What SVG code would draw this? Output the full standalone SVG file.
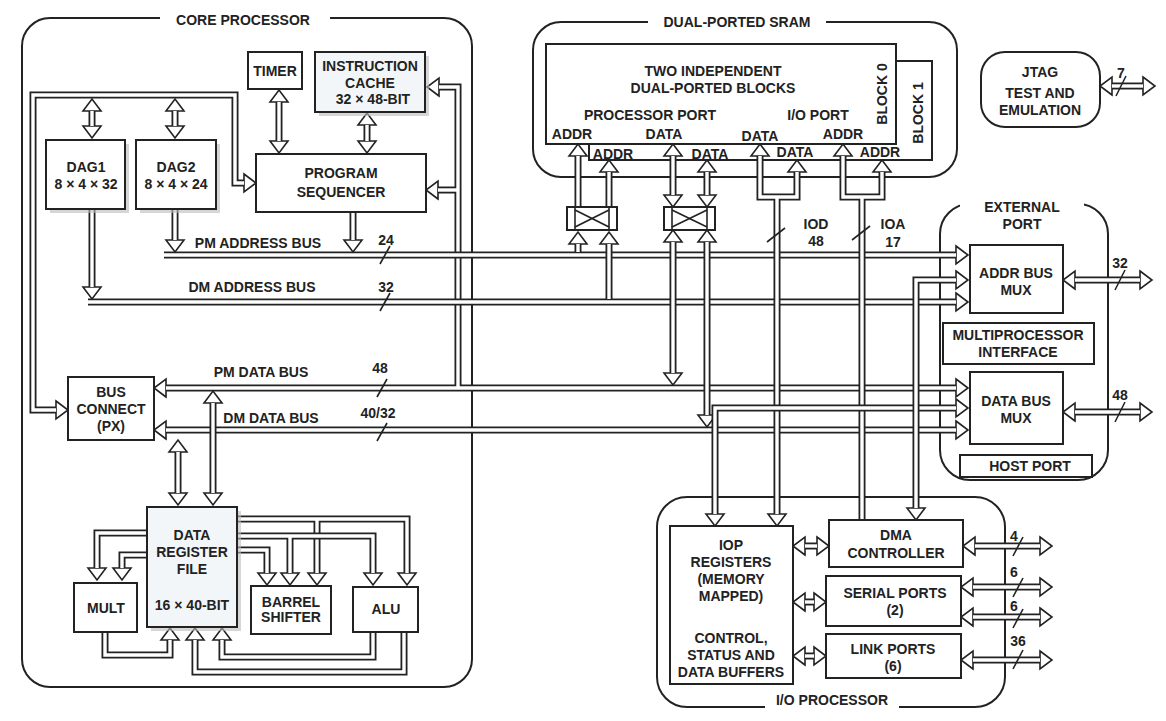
<svg xmlns="http://www.w3.org/2000/svg" width="1166" height="721" viewBox="0 0 1166 721">
<style>
text{font-family:"Liberation Sans",Arial,sans-serif;font-weight:bold;font-size:14px;fill:#222;text-anchor:middle}
.box{fill:#fff;stroke:#222;stroke-width:2}
.lt{fill:#f3f6f9;stroke:#222;stroke-width:2}
.sh{fill:#bbb;opacity:.6}
.grp{fill:none;stroke:#222;stroke-width:2}
.bk{fill:none;stroke:#222;stroke-width:7}
.wh{fill:none;stroke:#fff;stroke-width:3.4}
.a{marker-end:url(#ah)}
.b{marker-start:url(#ah);marker-end:url(#ah)}
.s{marker-start:url(#ah)}
.sl{stroke:#222;stroke-width:1.6}
</style>
<defs>
<marker id="ah" markerUnits="userSpaceOnUse" markerWidth="20" markerHeight="24" refX="0" refY="10" orient="auto-start-reverse" overflow="visible">
<path d="M0,1 L12,10 L0,19 Z" fill="#fff" stroke="#222" stroke-width="1.6"/>
</marker>
</defs>
<rect width="1166" height="721" fill="#fff"/>

<g id="core-processor">
<rect class="grp" x="22" y="18" width="450" height="669" rx="28"/>
<rect x="160" y="10" width="170" height="18" fill="#fff"/>
<text x="243" y="25">CORE PROCESSOR</text>
</g>
<g id="dual-ported-sram">
<rect class="grp" x="533" y="22" width="424" height="155" rx="28"/>
<rect x="648" y="12" width="178" height="18" fill="#fff"/>
<text x="737" y="27">DUAL-PORTED SRAM</text>
<rect class="box" x="589" y="61" width="343" height="99"/>
<rect class="box" x="546" y="44" width="350" height="100"/>
<text x="713" y="76">TWO  INDEPENDENT</text>
<text x="713" y="93">DUAL-PORTED BLOCKS</text>
<text x="650" y="120">PROCESSOR PORT</text>
<text x="818" y="120">I/O PORT</text>
<text x="572" y="139">ADDR</text>
<text x="664" y="139">DATA</text>
<text x="760" y="141">DATA</text>
<text x="843" y="139">ADDR</text>
<text x="613" y="159">ADDR</text>
<text x="710" y="159">DATA</text>
<text x="795" y="157">DATA</text>
<text x="880" y="157">ADDR</text>
<text transform="translate(887,94) rotate(-90)">BLOCK 0</text>
<text transform="translate(923,113) rotate(-90)">BLOCK 1</text>
</g>
<g id="jtag">
<rect class="grp" x="981" y="52" width="119" height="75" rx="24"/>
<text x="1040" y="77">JTAG</text>
<text x="1040" y="98">TEST AND</text>
<text x="1040" y="115">EMULATION</text>
</g>
<g id="external-port">
<rect class="grp" x="940" y="204" width="168" height="276" rx="30"/>
<rect x="960" y="194" width="124" height="20" fill="#fff"/>
<text x="1022" y="212">EXTERNAL</text>
<text x="1022" y="229">PORT</text>
</g>
<g id="io-processor">
<rect class="grp" x="657" y="497" width="348" height="210" rx="30"/>
<rect x="765" y="698" width="134" height="18" fill="#fff"/>
<text x="832" y="705">I/O PROCESSOR</text>
</g>

<g id="connectors">
<!-- PS loop / bus connect -->
<path class="bk b" d="M56,410 L33,410 L33,95 L235,95 L235,183 L244,183"/>
<path class="wh" d="M56,410 L33,410 L33,95 L235,95 L235,183 L244,183"/>
<path class="bk b" d="M92,111 L92,126"/><path class="wh" d="M92,111 L92,126"/>
<path class="bk b" d="M175,111 L175,126"/><path class="wh" d="M175,111 L175,126"/>
<path class="bk b" d="M279,102 L279,141"/><path class="wh" d="M279,102 L279,141"/>
<path class="bk b" d="M367,125 L367,141"/><path class="wh" d="M367,125 L367,141"/>
<!-- PM data bus + up to cache/PS -->
<path class="bk b" d="M166,388 L956,388"/>
<path class="bk a" d="M458,388 L458,87 L439,87"/>
<path class="bk a" d="M458,190 L438,190"/>
<path class="wh" d="M166,388 L956,388"/>
<path class="wh" d="M458,388 L458,87 L439,87"/>
<path class="wh" d="M458,190 L438,190"/>
<!-- addr buses -->
<path class="bk a" d="M164,255 L956,255"/><path class="wh" d="M164,255 L956,255"/>
<path class="bk a" d="M88,302 L956,302"/><path class="wh" d="M88,302 L956,302"/>
<path class="bk a" d="M92,209 L92,287"/><path class="wh" d="M92,209 L92,287"/>
<path class="bk a" d="M175,209 L175,240"/><path class="wh" d="M175,209 L175,240"/>
<path class="bk a" d="M353,212 L353,240"/><path class="wh" d="M353,212 L353,240"/>
<!-- DM data bus -->
<path class="bk b" d="M166,430 L956,430"/><path class="wh" d="M166,430 L956,430"/>
<!-- crossbars -->
<path class="bk a" d="M578,252 L578,244"/><path class="wh" d="M578,252 L578,244"/>
<path class="bk a" d="M609,299 L609,244"/><path class="wh" d="M609,299 L609,244"/>
<path class="bk a" d="M578,207 L578,156"/><path class="wh" d="M578,207 L578,156"/>
<path class="bk a" d="M609,207 L609,172"/><path class="wh" d="M609,207 L609,172"/>
<path class="bk b" d="M673,195 L673,156"/><path class="wh" d="M673,195 L673,156"/>
<path class="bk b" d="M707,195 L707,172"/><path class="wh" d="M707,195 L707,172"/>
<path class="bk b" d="M673,242 L673,373"/><path class="wh" d="M673,242 L673,373"/>
<path class="bk b" d="M707,242 L707,415"/><path class="wh" d="M707,242 L707,415"/>
<!-- IOD / IOA -->
<path class="bk b" d="M760,156 L760,197 L797,197 L797,172"/>
<path class="bk a" d="M777,197 L777,514"/>
<path class="wh" d="M760,156 L760,197 L797,197 L797,172"/>
<path class="wh" d="M777,197 L777,514"/>
<path class="bk b" d="M843,156 L843,197 L882,197 L882,172"/>
<path class="bk" d="M862,197 L862,520"/>
<path class="wh" d="M843,156 L843,197 L882,197 L882,172"/>
<path class="wh" d="M862,197 L862,519"/>
<path class="bk b" d="M715,514 L715,408 L956,408"/><path class="wh" d="M715,514 L715,408 L956,408"/>
<path class="bk b" d="M916,508 L916,280 L956,280"/><path class="wh" d="M916,508 L916,280 L956,280"/>
<!-- external -->
<path class="bk b" d="M1075,280 L1140,280"/><path class="wh" d="M1075,280 L1140,280"/>
<path class="bk b" d="M1075,412 L1140,412"/><path class="wh" d="M1075,412 L1140,412"/>
<path class="bk b" d="M1112,86 L1143,86"/><path class="wh" d="M1112,86 L1143,86"/>
<!-- IO -->
<path class="bk b" d="M805,546 L817,546"/><path class="wh" d="M805,546 L817,546"/>
<path class="bk b" d="M805,602 L814,602"/><path class="wh" d="M805,602 L814,602"/>
<path class="bk b" d="M805,656 L814,656"/><path class="wh" d="M805,656 L814,656"/>
<path class="bk b" d="M975,546 L1040,546"/><path class="wh" d="M975,546 L1040,546"/>
<path class="bk b" d="M973,587 L1040,587"/><path class="wh" d="M973,587 L1040,587"/>
<path class="bk b" d="M973,617 L1040,617"/><path class="wh" d="M973,617 L1040,617"/>
<path class="bk b" d="M973,660 L1040,660"/><path class="wh" d="M973,660 L1040,660"/>
<!-- DRF -->
<path class="bk b" d="M178,452 L178,493"/><path class="wh" d="M178,452 L178,493"/>
<path class="bk b" d="M213,403 L213,493"/><path class="wh" d="M213,403 L213,493"/>
<path class="bk a" d="M147,533 L97,533 L97,568"/><path class="wh" d="M147,533 L97,533 L97,568"/>
<path class="bk a" d="M147,555 L122,555 L122,568"/><path class="wh" d="M147,555 L122,555 L122,568"/>
<path class="bk a" d="M237,519 L407,519 L407,573"/><path class="bk a" d="M317,519 L317,573"/>
<path class="wh" d="M237,519 L407,519 L407,573"/><path class="wh" d="M317,519 L317,573"/>
<path class="bk a" d="M237,536 L373,536 L373,573"/><path class="bk a" d="M290,536 L290,573"/>
<path class="wh" d="M237,536 L373,536 L373,573"/><path class="wh" d="M290,536 L290,573"/>
<path class="bk a" d="M237,550 L267,550 L267,573"/><path class="wh" d="M237,550 L267,550 L267,573"/>
<path class="bk a" d="M105,632 L105,655 L170,655 L170,640"/><path class="wh" d="M105,632 L105,655 L170,655 L170,640"/>
<path class="bk a" d="M373,632 L373,657 L222,657 L222,640"/><path class="wh" d="M373,632 L373,657 L222,657 L222,640"/>
<path class="bk a" d="M404,632 L404,672 L195,672 L195,640"/><path class="wh" d="M404,632 L404,672 L195,672 L195,640"/>
<!-- slashes -->
<line class="sl" x1="380" y1="264" x2="390" y2="246"/>
<line class="sl" x1="380" y1="311" x2="390" y2="293"/>
<line class="sl" x1="377" y1="397" x2="387" y2="379"/>
<line class="sl" x1="377" y1="441" x2="387" y2="423"/>
<line class="sl" x1="767" y1="242" x2="785" y2="228"/>
<line class="sl" x1="852" y1="240" x2="870" y2="226"/>
<line class="sl" x1="1115" y1="290" x2="1125" y2="270"/>
<line class="sl" x1="1115" y1="422" x2="1125" y2="402"/>
<line class="sl" x1="1116" y1="96" x2="1126" y2="76"/>
<line class="sl" x1="1013" y1="556" x2="1023" y2="537"/>
<line class="sl" x1="1013" y1="597" x2="1023" y2="578"/>
<line class="sl" x1="1013" y1="628" x2="1023" y2="609"/>
<line class="sl" x1="1013" y1="669" x2="1023" y2="650"/>
<text x="386" y="245">24</text>
<text x="386" y="292">32</text>
<text x="380" y="373">48</text>
<text x="378" y="418">40/32</text>
<text x="258" y="248">PM ADDRESS BUS</text>
<text x="252" y="292">DM ADDRESS BUS</text>
<text x="261" y="377">PM DATA BUS</text>
<text x="271" y="423">DM  DATA BUS</text>
<text x="816" y="229">IOD</text><text x="816" y="246">48</text>
<text x="893" y="229">IOA</text><text x="893" y="247">17</text>
<text x="1120" y="268">32</text>
<text x="1120" y="400">48</text>
<text x="1121" y="78">7</text>
<text x="1014" y="541">4</text>
<text x="1014" y="577">6</text>
<text x="1014" y="611">6</text>
<text x="1018" y="646">36</text>
</g>

<g id="crossbar-addr">
<rect class="box" x="567" y="207" width="50" height="23"/>
<line class="sl" x1="575" y1="207" x2="575" y2="230"/><line class="sl" x1="609" y1="207" x2="609" y2="230"/>
<line class="sl" x1="575" y1="210" x2="609" y2="227"/><line class="sl" x1="575" y1="227" x2="609" y2="210"/>
</g>
<g id="crossbar-data">
<rect class="box" x="664" y="207" width="51" height="23"/>
<line class="sl" x1="672" y1="207" x2="672" y2="230"/><line class="sl" x1="707" y1="207" x2="707" y2="230"/>
<line class="sl" x1="672" y1="210" x2="707" y2="227"/><line class="sl" x1="672" y1="227" x2="707" y2="210"/>
</g>

<g id="timer"><rect class="box" x="248" y="52" width="54" height="37"/><text x="275" y="76">TIMER</text></g>
<g id="instruction-cache"><rect class="sh" x="319" y="56" width="110" height="60"/><rect class="lt" x="315" y="52" width="110" height="60"/>
<text x="370" y="71">INSTRUCTION</text><text x="370" y="88">CACHE</text><text x="373" y="104">32 × 48-BIT</text></g>
<g id="program-sequencer"><rect class="box" x="256" y="154" width="170" height="58"/><text x="341" y="178">PROGRAM</text><text x="341" y="197">SEQUENCER</text></g>
<g id="dag1"><rect class="sh" x="50" y="144" width="79" height="69"/><rect class="box" x="46" y="140" width="79" height="69"/><text x="86" y="172">DAG1</text><text x="86" y="189">8 × 4 × 32</text></g>
<g id="dag2"><rect class="sh" x="140" y="144" width="80" height="69"/><rect class="box" x="136" y="140" width="80" height="69"/><text x="176" y="172">DAG2</text><text x="176" y="189">8 × 4 × 24</text></g>
<g id="bus-connect"><rect class="box" x="68" y="377" width="86" height="63"/><text x="111" y="397">BUS</text><text x="111" y="414">CONNECT</text><text x="111" y="431">(PX)</text></g>
<g id="data-register-file"><rect class="sh" x="151" y="511" width="90" height="120"/><rect class="lt" x="147" y="507" width="90" height="120"/>
<text x="192" y="540">DATA</text><text x="192" y="557">REGISTER</text><text x="192" y="574">FILE</text><text x="192" y="610">16 × 40-BIT</text></g>
<g id="mult"><rect class="box" x="74" y="583" width="63" height="49"/><text x="106" y="613">MULT</text></g>
<g id="barrel-shifter"><rect class="box" x="251" y="586" width="80" height="48"/><text x="291" y="607">BARREL</text><text x="291" y="622">SHIFTER</text></g>
<g id="alu"><rect class="box" x="353" y="587" width="65" height="45"/><text x="386" y="614">ALU</text></g>
<g id="addr-bus-mux"><rect class="box" x="970" y="245" width="93" height="68"/><text x="1016" y="278">ADDR  BUS</text><text x="1016" y="295">MUX</text></g>
<g id="multiprocessor-interface"><rect class="box" x="943" y="323" width="151" height="41"/><text x="1018" y="340">MULTIPROCESSOR</text><text x="1018" y="357">INTERFACE</text></g>
<g id="data-bus-mux"><rect class="box" x="970" y="372" width="93" height="72"/><text x="1016" y="406">DATA BUS</text><text x="1016" y="423">MUX</text></g>
<g id="host-port"><rect class="box" x="960" y="455" width="132" height="22"/><text x="1030" y="471">HOST PORT</text></g>
<g id="iop-registers"><rect class="box" x="670" y="526" width="123" height="158"/>
<text x="731" y="550">IOP</text><text x="731" y="567">REGISTERS</text><text x="731" y="584">(MEMORY</text><text x="731" y="601">MAPPED)</text>
<text x="731" y="643">CONTROL,</text><text x="731" y="660">STATUS AND</text><text x="731" y="677">DATA BUFFERS</text></g>
<g id="dma-controller"><rect class="box" x="829" y="520" width="134" height="47"/><text x="896" y="540">DMA</text><text x="896" y="558">CONTROLLER</text></g>
<g id="serial-ports"><rect class="box" x="826" y="576" width="135" height="50"/><text x="895" y="598">SERIAL PORTS</text><text x="895" y="615">(2)</text></g>
<g id="link-ports"><rect class="box" x="826" y="634" width="135" height="44"/><text x="893" y="654">LINK PORTS</text><text x="893" y="671">(6)</text></g>
</svg>
